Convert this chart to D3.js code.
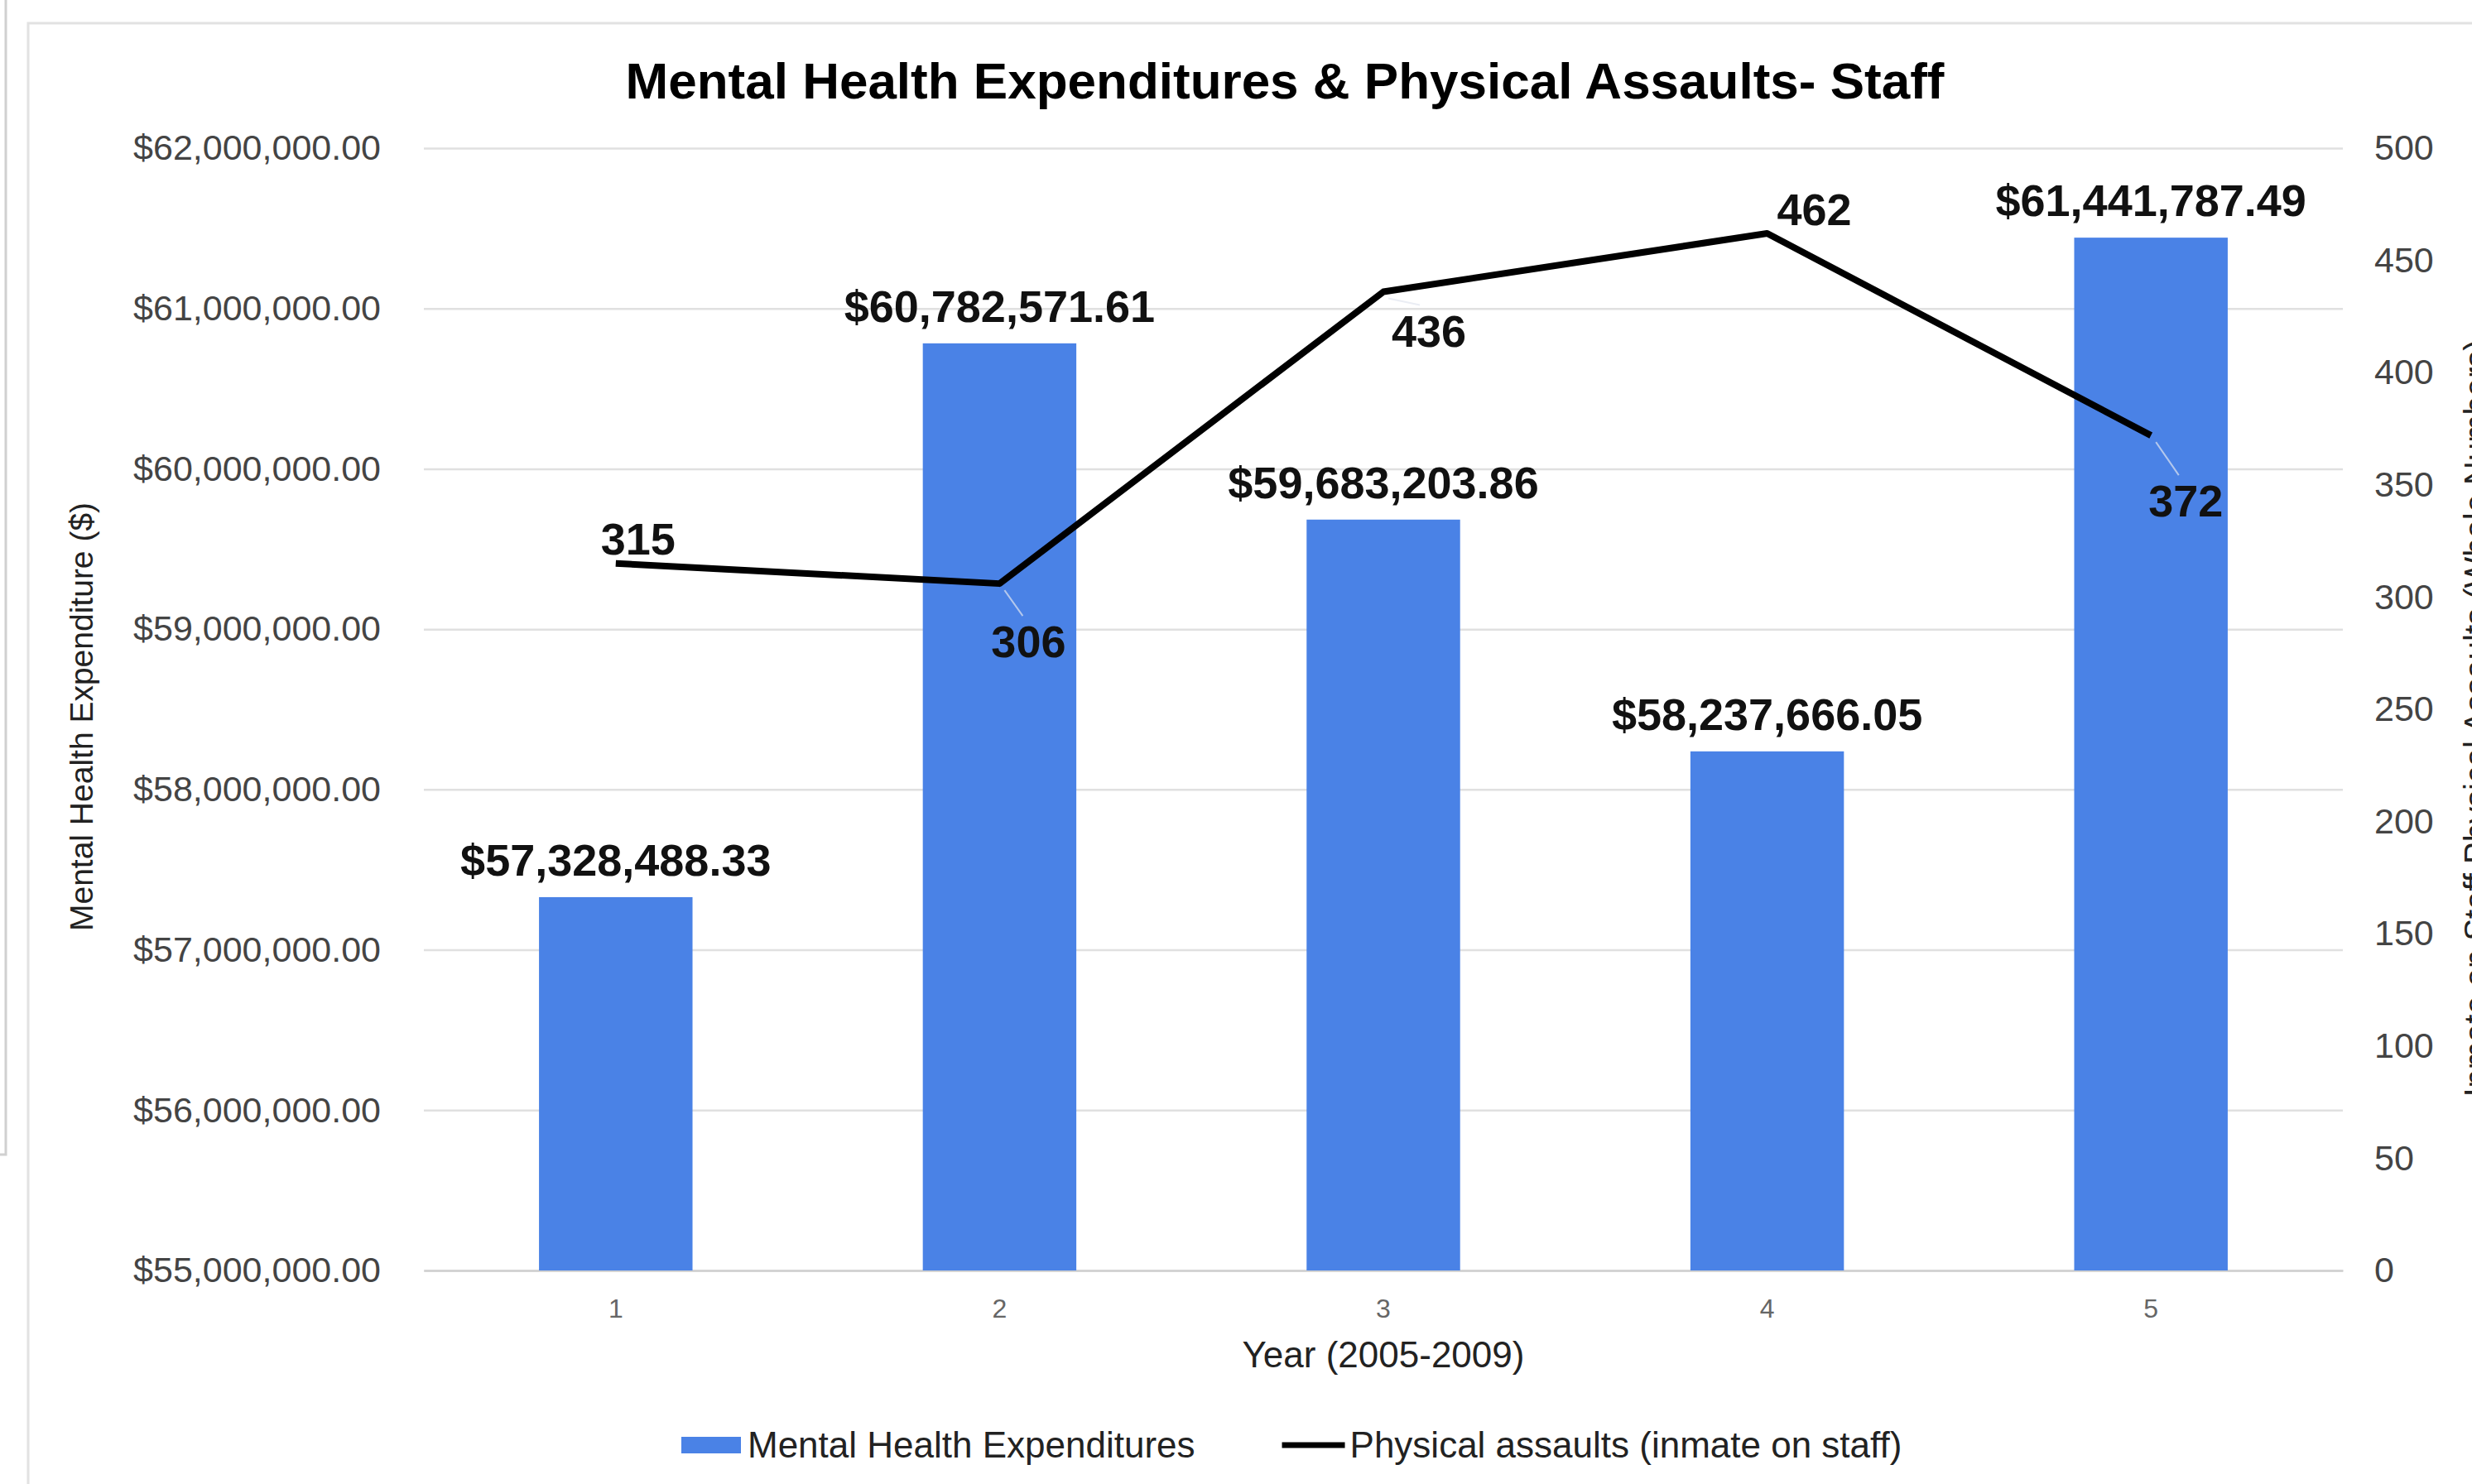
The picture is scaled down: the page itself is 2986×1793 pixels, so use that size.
<!DOCTYPE html>
<html>
<head>
<meta charset="utf-8">
<script src="https://cdn.jsdelivr.net/npm/d3@7"></script>
<style>
  html, body { margin: 0; padding: 0; background: #fff; }
  svg { display: block; font-family: Arial, 'Liberation Sans', sans-serif; }
</style>
</head>
<body>
<div id="chart"></div>
<script>
// Chart data
const years = ['1', '2', '3', '4', '5'];
const expenditures = [57328488.33, 60782571.61, 59683203.86, 58237666.05, 61441787.49];
const assaults = [315, 306, 436, 462, 372];
const leftTicks = [55000000, 56000000, 57000000, 58000000, 59000000, 60000000, 61000000, 62000000];
const rightTicks = [0, 50, 100, 150, 200, 250, 300, 350, 400, 450, 500];

// where each line label sits relative to its point (layout only)
const lineLabelOffsets = [
    { dx: 27, dy: -11, leader: false },
    { dx: 35, dy: 89, leader: true },
    { dx: 55, dy: 66, leader: true },
    { dx: 57, dy: -10, leader: false },
    { dx: 42, dy: 98, leader: true }
];

const width = 2986;
const height = 1793;
const plot = { left: 512, right: 2830, top: 179, bottom: 1535 };

const svg = d3.select('#chart')
    .append('svg')
    .attr('width', width)
    .attr('height', height);

// page frame bits
svg.append('path')
    .attr('d', 'M0,1395 H7 V0')
    .attr('fill', 'none')
    .attr('stroke', '#d0d0d0')
    .attr('stroke-width', 3);

svg.append('rect')
    .attr('x', 34)
    .attr('y', 28)
    .attr('width', width)
    .attr('height', height)
    .attr('fill', '#fff')
    .attr('stroke', '#e2e2e2')
    .attr('stroke-width', 3);

// Scales
const x = d3.scaleBand()
    .domain(years)
    .range([plot.left, plot.right])
    .paddingInner(0.6)
    .paddingOuter(0.3);

const yLeft = d3.scaleLinear()
    .domain([55000000, 62000000])
    .range([plot.bottom, plot.top]);

const yRight = d3.scaleLinear()
    .domain([0, 500])
    .range([plot.bottom, plot.top]);

// Gridlines
svg.append('g')
    .attr('transform', 'translate(' + plot.left + ',0)')
    .call(d3.axisLeft(yLeft).tickValues(leftTicks).tickSize(-(plot.right - plot.left)).tickFormat(''))
    .call(function(g) {
        g.select('.domain').remove();
        g.selectAll('line').attr('stroke', '#e0e0e0').attr('stroke-width', 2.5);
    });

// Left axis
svg.append('g')
    .attr('transform', 'translate(' + plot.left + ',0)')
    .call(d3.axisLeft(yLeft).tickValues(leftTicks).tickSize(0).tickPadding(52).tickFormat(d3.format('$,.2f')))
    .call(function(g) {
        g.select('.domain').remove();
        g.selectAll('text')
            .attr('font-size', '43px')
            .attr('fill', '#444')
            .attr('font-family', 'Arial, Liberation Sans, sans-serif');
    });

// Right axis
svg.append('g')
    .attr('transform', 'translate(' + plot.right + ',0)')
    .call(d3.axisRight(yRight).tickValues(rightTicks).tickSize(0).tickPadding(38))
    .call(function(g) {
        g.select('.domain').remove();
        g.selectAll('text')
            .attr('font-size', '43px')
            .attr('fill', '#444')
            .attr('font-family', 'Arial, Liberation Sans, sans-serif');
    });

// Bottom axis
svg.append('g')
    .attr('transform', 'translate(0,' + plot.bottom + ')')
    .call(d3.axisBottom(x).tickSize(0).tickPadding(34))
    .call(function(g) {
        g.select('.domain').attr('stroke', '#d0d0d0').attr('stroke-width', 2.5);
        g.selectAll('text')
            .attr('font-size', '32px')
            .attr('fill', '#666')
            .attr('font-family', 'Arial, Liberation Sans, sans-serif');
    });

// Bars
svg.selectAll('.bar')
    .data(expenditures)
    .enter()
    .append('rect')
    .attr('class', 'bar')
    .attr('x', function(d, i) { return x(years[i]); })
    .attr('y', function(d) { return yLeft(d); })
    .attr('width', x.bandwidth())
    .attr('height', function(d) { return plot.bottom - yLeft(d); })
    .attr('fill', '#4a82e6');

// Bar labels
svg.selectAll('.bar-label')
    .data(expenditures)
    .enter()
    .append('text')
    .attr('class', 'bar-label')
    .attr('x', function(d, i) { return x(years[i]) + x.bandwidth() / 2; })
    .attr('y', function(d) { return yLeft(d) - 26; })
    .attr('text-anchor', 'middle')
    .attr('font-size', '54px')
    .attr('font-weight', 'bold')
    .attr('fill', '#111')
    .text(function(d) { return d3.format('$,.2f')(d); });

// Line
const cx = function(i) { return x(years[i]) + x.bandwidth() / 2; };
const line = d3.line()
    .x(function(d, i) { return cx(i); })
    .y(function(d) { return yRight(d); });

svg.append('path')
    .datum(assaults)
    .attr('d', line)
    .attr('fill', 'none')
    .attr('stroke', '#000')
    .attr('stroke-width', 8)
    .attr('stroke-linejoin', 'round');

// Leader lines for labels below the line
assaults.forEach(function(d, i) {
    const o = lineLabelOffsets[i];
    if (!o.leader) return;
    const px = cx(i), py = yRight(d);
    svg.append('line')
        .attr('x1', px + 6)
        .attr('y1', py + 8)
        .attr('x2', px + o.dx * 0.8)
        .attr('y2', py + o.dy - 50)
        .attr('stroke', 'rgba(225,230,240,0.7)')
        .attr('stroke-width', 2);
});

// Line labels
svg.selectAll('.line-label')
    .data(assaults)
    .enter()
    .append('text')
    .attr('class', 'line-label')
    .attr('x', function(d, i) { return cx(i) + lineLabelOffsets[i].dx; })
    .attr('y', function(d, i) { return yRight(d) + lineLabelOffsets[i].dy; })
    .attr('text-anchor', 'middle')
    .attr('font-size', '54px')
    .attr('font-weight', 'bold')
    .attr('fill', '#111')
    .text(function(d) { return d; });

// Title
svg.append('text')
    .attr('x', 1552)
    .attr('y', 119)
    .attr('text-anchor', 'middle')
    .attr('font-size', '62px')
    .attr('font-weight', 'bold')
    .attr('fill', '#000')
    .text('Mental Health Expenditures & Physical Assaults- Staff');

// Axis titles
svg.append('text')
    .attr('transform', 'translate(112,866) rotate(-90)')
    .attr('text-anchor', 'middle')
    .attr('font-size', '39px')
    .attr('fill', '#222')
    .text('Mental Health Expenditure ($)');

// right title runs off the edge of the card, as in the original
svg.append('text')
    .attr('transform', 'translate(3005,868) rotate(-90)')
    .attr('text-anchor', 'middle')
    .attr('font-size', '40px')
    .attr('fill', '#222')
    .text('Inmate on Staff Physical Assaults (Whole Numbers)');

svg.append('text')
    .attr('x', (plot.left + plot.right) / 2)
    .attr('y', 1652)
    .attr('text-anchor', 'middle')
    .attr('font-size', '44px')
    .attr('fill', '#222')
    .text('Year (2005-2009)');

// Legend
const legend = svg.append('g').attr('transform', 'translate(823,1761)');

legend.append('rect')
    .attr('x', 0)
    .attr('y', -25)
    .attr('width', 72)
    .attr('height', 20)
    .attr('fill', '#4a82e6');

const legText1 = legend.append('text')
    .attr('x', 80)
    .attr('y', 0)
    .attr('font-size', '44px')
    .attr('fill', '#222')
    .text('Mental Health Expenditures');

const item2x = 80 + legText1.node().getComputedTextLength() + 105;

legend.append('line')
    .attr('x1', item2x)
    .attr('x2', item2x + 76)
    .attr('y1', -15)
    .attr('y2', -15)
    .attr('stroke', '#000')
    .attr('stroke-width', 7);

legend.append('text')
    .attr('x', item2x + 82)
    .attr('y', 0)
    .attr('font-size', '44px')
    .attr('fill', '#222')
    .text('Physical assaults (inmate on staff)');
</script>
</body>
</html>
